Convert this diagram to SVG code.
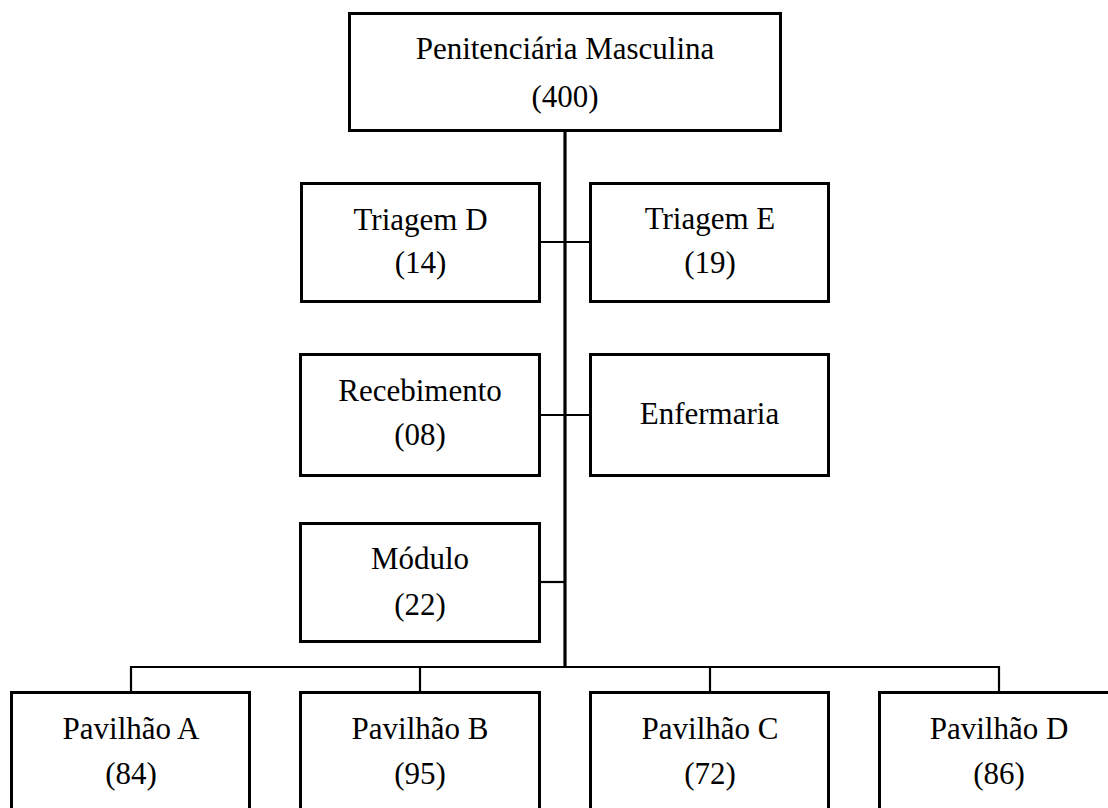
<svg xmlns="http://www.w3.org/2000/svg" width="1108" height="808" viewBox="0 0 1108 808">
<style>
.box{fill:#fff;stroke:#000;stroke-width:3}
.ln{stroke:#000;stroke-width:2.2;fill:none}
.main{stroke:#000;stroke-width:3.2;fill:none}
text{font-family:"Liberation Serif","Times New Roman",serif;font-size:31px;fill:#000;text-anchor:middle}
</style>
<rect width="1108" height="808" fill="#fff"/>
<g id="connectors">
<line class="main" x1="565" y1="131" x2="565" y2="668"/>
<line class="ln" x1="540" y1="242" x2="590" y2="242"/>
<line class="ln" x1="540" y1="415" x2="590" y2="415"/>
<line class="ln" x1="540" y1="582" x2="565" y2="582"/>
<polyline class="ln" points="131,692 131,667 999,667 999,692"/>
<line class="ln" x1="420" y1="667" x2="420" y2="692"/>
<line class="ln" x1="710" y1="667" x2="710" y2="692"/>
</g>
<g id="n-penitenciaria">
<rect class="box" x="349.5" y="13.5" width="431" height="117"/>
<text x="565" y="59">Penitenciária Masculina</text>
<text x="565" y="107">(400)</text>
</g>
<g id="n-triagem-d">
<rect class="box" x="301.5" y="183.5" width="238" height="118"/>
<text x="420.5" y="230">Triagem D</text>
<text x="420.5" y="273">(14)</text>
</g>
<g id="n-triagem-e">
<rect class="box" x="590.5" y="183.5" width="238" height="118"/>
<text x="710" y="229">Triagem E</text>
<text x="710" y="273">(19)</text>
</g>
<g id="n-recebimento">
<rect class="box" x="300.5" y="354.5" width="239" height="121"/>
<text x="420" y="401">Recebimento</text>
<text x="420" y="445">(08)</text>
</g>
<g id="n-enfermaria">
<rect class="box" x="590.5" y="354.5" width="238" height="121"/>
<text x="709.5" y="424">Enfermaria</text>
</g>
<g id="n-modulo">
<rect class="box" x="300.5" y="523.5" width="239" height="118"/>
<text x="420" y="569">Módulo</text>
<text x="420" y="615">(22)</text>
</g>
<g id="n-pavilhao-a">
<rect class="box" x="11.5" y="692.5" width="238" height="140"/>
<text x="131" y="739">Pavilhão A</text>
<text x="131" y="784">(84)</text>
</g>
<g id="n-pavilhao-b">
<rect class="box" x="300.5" y="692.5" width="239" height="140"/>
<text x="420" y="739">Pavilhão B</text>
<text x="420" y="784">(95)</text>
</g>
<g id="n-pavilhao-c">
<rect class="box" x="590.5" y="692.5" width="238" height="140"/>
<text x="710" y="739">Pavilhão C</text>
<text x="710" y="784">(72)</text>
</g>
<g id="n-pavilhao-d">
<rect class="box" x="879.5" y="692.5" width="238" height="140"/>
<text x="999" y="739">Pavilhão D</text>
<text x="999" y="784">(86)</text>
</g>
</svg>
